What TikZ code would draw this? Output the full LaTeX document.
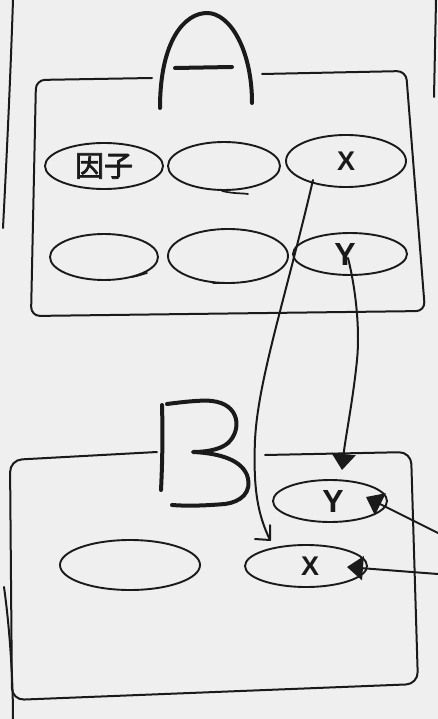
\documentclass[tikz,border=0pt]{standalone}
\usepackage{fontspec}
\setmainfont{Liberation Sans}
\newfontfamily\cjk[FakeBold=2.5]{Noto Sans CJK SC}
\usetikzlibrary{shapes.geometric,arrows.meta}
\definecolor{paper}{HTML}{EFEFEF}
\definecolor{inkc}{HTML}{1A1A1A}
\begin{document}
\begin{tikzpicture}[x=1pt,y=-1pt,line cap=round,line join=round,
  ink/.style={draw=inkc,line width=2pt},
  oval/.style={ellipse,draw=inkc,line width=1.9pt,inner sep=0pt,text=inkc},
  letter/.style={draw=inkc,line width=4pt},
  lblx/.style={font=\bfseries\fontsize{27}{27}\selectfont},
  lbly/.style={font=\bfseries\fontsize{32}{32}\selectfont},
  tri/.style={-{Triangle[length=16pt,width=24pt]}}]

\fill[paper] (0,0) rectangle (438,719);
\useasboundingbox (0,0) rectangle (438,719);

% outer frame fragments
\draw[ink] (13,0) .. controls (10,90) and (6,170) .. (3,228);
\draw[ink] (4,587) .. controls (10,630) and (13,680) .. (13,719);
\draw[ink] (436,0) -- (434,97);

% box A
\draw[ink,rounded corners=9pt] (152,78) -- (36,80) -- (31,316) -- (425,311) -- (406,71) -- (262,74);
% letter A
\draw[letter] (160,108) .. controls (160,40) and (185,13) .. (207,13)
  .. controls (230,13) and (252,50) .. (252,103);
\draw[letter] (175,68) -- (232,67);

% ellipses in A
\node[oval,minimum width=118pt,minimum height=46pt] (e1) at (104,166) {\cjk\fontsize{29}{29}\selectfont 因子};
\node[oval,minimum width=112pt,minimum height=48pt] (e2) at (224,166) {};
\node[oval,minimum width=120pt,minimum height=52pt,lblx] (e3) at (346,161) {X};
\node[oval,minimum width=108pt,minimum height=46pt] (e4) at (104,257) {};
\node[oval,minimum width=120pt,minimum height=54pt] (e5) at (228,256) {};
\node[oval,minimum width=114pt,minimum height=42pt,lbly] (e6) at (350,254) {\hspace*{-10pt}Y};

% little overlapping stroke ends
\draw[ink,line width=1.7pt] ([shift={(-2,25)}]e2.center) .. controls (235,194) and (243,193) .. (248,194);
\draw[ink,line width=1.7pt] ([shift={(28,20)}]e4.center) .. controls (138,276) and (143,274) .. (147,273);
\draw[ink,line width=1.7pt] ([shift={(-15,27)}]e5.center) -- (233,283);

% box B
\draw[ink,rounded corners=12pt] (157,452) -- (10,460) -- (12,700) -- (418,684) -- (411,452) -- (265,455);
% letter B
\draw[letter] (162,405) .. controls (163,440) and (162,470) .. (161,490);
\draw[letter] (167,404) .. controls (190,401) and (205,400) .. (212,401)
  .. controls (240,404) and (242,430) .. (228,443)
  .. controls (220,450) and (205,452) .. (193,452)
  .. controls (215,453) and (240,458) .. (247,475)
  .. controls (253,493) and (240,502) .. (225,504)
  .. controls (200,506) and (185,506) .. (172,505);

% ellipses in B
\node[oval,minimum width=140pt,minimum height=50pt] (b1) at (130,565) {};
\node[oval,minimum width=114pt,minimum height=42pt,lbly] (by) at (330,501) {\hspace*{6pt}Y};
\node[oval,minimum width=122pt,minimum height=42pt,lblx] (bx) at (306,566) {\hspace*{8pt}X};

% connector endpoints
\coordinate (s1) at ([shift={(-33,19)}]e3.center);
\coordinate (t1) at ([shift={(-36,-26)}]bx.center);
\coordinate (s2) at ([shift={(-2,4)}]e6.center);
\coordinate (t2) at ([shift={(12,-31)}]by.center);
\coordinate (r1) at (438,533);
\coordinate (t3) at ([shift={(36,-4)}]by.center);
\coordinate (r2) at (438,574);
\coordinate (t4) at ([shift={(41,1)}]bx.center);

% X of A -> X of B (open corner tip)
\draw[ink] (s1) .. controls (285,300) and (258,380) .. (255,440)
  .. controls (253,490) and (258,515) .. (t1);
\draw[ink] ([shift={(-15,-1)}]t1) -- (t1) -- ([shift={(0,-15)}]t1);

% Y of A -> Y of B
\draw[ink,tri] (s2) .. controls (356,290) and (360,330) .. (357,360)
  .. controls (353,400) and (345,440) .. (t2);

% incoming arrows from the right
\draw[ink,tri] (r1) -- (t3);
\draw[ink,tri] (r2) -- (t4);
\end{tikzpicture}
\end{document}
